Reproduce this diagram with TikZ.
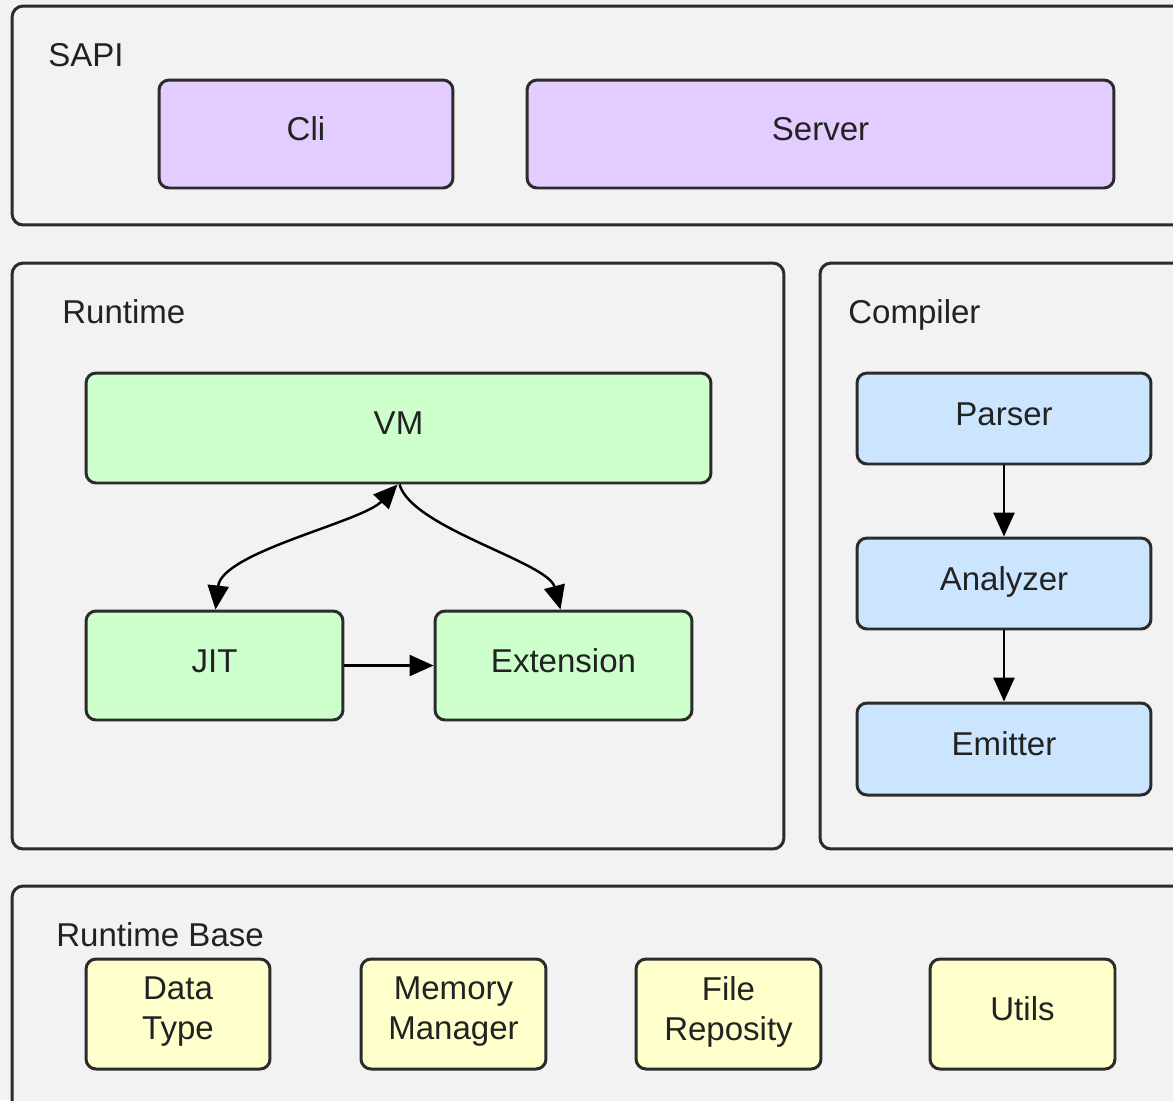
\documentclass[tikz,border=0pt]{standalone}
\usepackage{fontspec}
\setmainfont{Liberation Sans}
\usetikzlibrary{arrows.meta}
\definecolor{bg}{HTML}{F2F2F2}
\definecolor{edge}{HTML}{2B2B2B}
\definecolor{ink}{HTML}{222222}
\definecolor{sapifill}{HTML}{E3CCFF}
\definecolor{runfill}{HTML}{CCFFCC}
\definecolor{compfill}{HTML}{CCE5FF}
\definecolor{basefill}{HTML}{FFFFCC}
% lowered strut that lifts two-line labels a little inside their boxes
\newcommand{\liftstrut}{\rule[-6.2pt]{0pt}{0pt}}
\tikzset{
  labelfont/.style={font=\fontsize{18.8}{22.7}\selectfont},
  group/.style={draw=edge, line width=1.7pt, fill=bg, rounded corners=0.22cm, inner sep=0pt},
  grouptitle/.style={anchor=base west, inner sep=0pt, text=ink, labelfont},
  box/.style={draw=edge, line width=1.7pt, rounded corners=0.2cm, inner sep=0pt, text=ink,
    labelfont, align=center},
  onebox/.style={box, text height=13.5pt, text depth=5.9pt},
  link/.style={draw=black, line width=1.4pt},
  >={Triangle[length=0.48cm, width=0.42cm]}
}
\begin{document}
\begin{tikzpicture}[x=0.02cm, y=-0.02cm]
\useasboundingbox (0,0) rectangle (1173,1100);
\clip (0,0) rectangle (1173,1100);
\fill[bg] (0,0) rectangle (1173,1100);

% layer containers
\node[group, minimum width=23.66cm, minimum height=4.38cm] (sapi) at (603.5,115.5) {};
\node[group, minimum width=15.44cm, minimum height=11.72cm] (runtime) at (398,556) {};
\node[group, minimum width=7.5cm, minimum height=11.72cm] (compiler) at (1007.5,556) {};
\node[group, minimum width=23.66cm, minimum height=4.68cm] (rtbase) at (603.5,1003) {};

\node[grouptitle] (sapititle) at (48,66) {SAPI};
\node[grouptitle] (runtimetitle) at (62,323) {Runtime};
\node[grouptitle] (compilertitle) at (848,323) {Compiler};
\node[grouptitle] (rtbasetitle) at (56,946) {Runtime Base};

% SAPI
\node[onebox, fill=sapifill, minimum width=5.88cm, minimum height=2.16cm] (cli) at (306,134) {Cli};
\node[onebox, fill=sapifill, minimum width=11.74cm, minimum height=2.16cm] (server) at (820.5,134) {Server};

% runtime
\node[onebox, fill=runfill, minimum width=12.5cm, minimum height=2.2cm] (vm) at (398.5,428) {VM};
\node[onebox, fill=runfill, minimum width=5.14cm, minimum height=2.18cm] (jit) at (214.5,665.5) {JIT};
\node[onebox, fill=runfill, minimum width=5.14cm, minimum height=2.18cm] (ext) at (563.5,665.5) {Extension};

% compiler
\node[onebox, fill=compfill, minimum width=5.88cm, minimum height=1.82cm] (parser) at (1004,418.5) {Parser};
\node[onebox, fill=compfill, minimum width=5.88cm, minimum height=1.82cm] (analyzer) at (1004,583.5) {Analyzer};
\node[onebox, fill=compfill, minimum width=5.88cm, minimum height=1.84cm] (emitter) at (1004,749) {Emitter};

% runtime base
\node[box, fill=basefill, minimum width=3.68cm, minimum height=2.2cm] (dtype) at (178,1014) {Data\\Type\liftstrut};
\node[box, fill=basefill, minimum width=3.7cm, minimum height=2.2cm] (memory) at (453.5,1014) {Memory\\Manager\liftstrut};
\node[box, fill=basefill, minimum width=3.7cm, minimum height=2.2cm] (file) at (728.5,1014) {File\\Reposity\liftstrut};
\node[onebox, fill=basefill, minimum width=3.7cm, minimum height=2.2cm] (utils) at (1022.5,1014) {Utils};

% connectors
\draw[link, <->] ([xshift=-0.02cm]vm.south) .. controls (362,522) and (222,552) .. ([xshift=0.02cm]jit.north);
\draw[link, ->] ([xshift=0.02cm]vm.south) .. controls (412,528) and (548,562) .. ([xshift=-0.06cm]ext.north);
\draw[link, ->] (jit.east) -- (ext.west);
\draw[link, ->] (parser.south) -- (analyzer.north);
\draw[link, ->] (analyzer.south) -- (emitter.north);
\end{tikzpicture}
\end{document}
